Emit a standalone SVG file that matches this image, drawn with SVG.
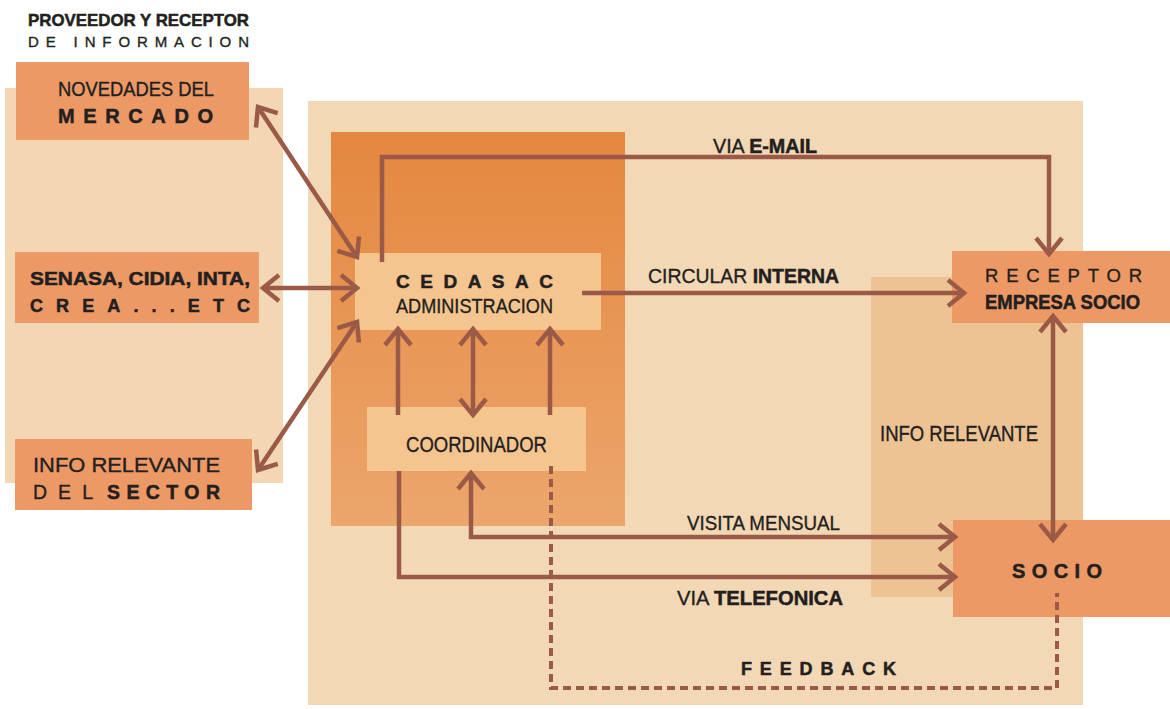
<svg xmlns="http://www.w3.org/2000/svg" width="1170" height="709" viewBox="0 0 1170 709">
<defs>
<linearGradient id="gDark" x1="0" y1="0" x2="0" y2="1">
<stop offset="0" stop-color="#e4873f"/>
<stop offset="1" stop-color="#eca66c"/>
</linearGradient>
<marker id="ah" markerUnits="userSpaceOnUse" viewBox="-20 -16 24 32" refX="0" refY="0" markerWidth="24" markerHeight="32" orient="auto-start-reverse" overflow="visible">
<path d="M-16,-13 L0,0 L-16,13" fill="none" stroke="#9b5a48" stroke-width="4.5" stroke-linejoin="miter"/>
</marker>
</defs>
<style>
text{font-family:"Liberation Sans",Arial,sans-serif;fill:#231f20;stroke:#231f20;stroke-width:0.35}
.b{font-weight:bold;stroke-width:0.5}
.orange{fill:#ec9966}
.light{fill:#f5c590}
.conn{fill:none;stroke:#9b5a48;stroke-width:4.5}
.dash{fill:none;stroke:#9b5a48;stroke-width:4;stroke-dasharray:8 5}
</style>
<rect width="1170" height="709" fill="#ffffff"/>
<g id="backgrounds">
<rect x="5" y="88" width="278" height="395" fill="#f3d6b3"/>
<rect x="308" y="101" width="775" height="604" fill="#f3d8b6"/>
<rect x="331" y="132" width="294" height="394" fill="url(#gDark)"/>
<rect x="871" y="277" width="212" height="320" fill="#edc393"/>
</g>
<g id="title">
<text x="28" y="26" class="b" font-size="17" textLength="221" lengthAdjust="spacingAndGlyphs">PROVEEDOR Y RECEPTOR</text>
<text x="28" y="47" font-size="15" textLength="221" lengthAdjust="spacing">DE INFORMACION</text>
</g>
<g id="novedades">
<rect x="16" y="62" width="233" height="78" class="orange"/>
<text x="58" y="96" font-size="19.5" textLength="156" lengthAdjust="spacingAndGlyphs">NOVEDADES DEL</text>
<text x="58" y="123" class="b" font-size="20" textLength="155" lengthAdjust="spacing">MERCADO</text>
</g>
<g id="senasa">
<rect x="15" y="252" width="244" height="71" class="orange"/>
<text x="30" y="285" class="b" font-size="18.5" textLength="220" lengthAdjust="spacingAndGlyphs">SENASA, CIDIA, INTA,</text>
<text x="30" y="312" class="b" font-size="18" textLength="220" lengthAdjust="spacing">CREA...ETC</text>
</g>
<g id="info-sector">
<rect x="15" y="439" width="237" height="71" class="orange"/>
<text x="33" y="472" font-size="21" textLength="187" lengthAdjust="spacingAndGlyphs">INFO RELEVANTE</text>
<text x="33" y="499" font-size="19.5" textLength="60" lengthAdjust="spacing">DEL</text>
<text x="107" y="499" class="b" font-size="19.5" textLength="113" lengthAdjust="spacing">SECTOR</text>
</g>
<g id="cedasac">
<rect x="355" y="253" width="246" height="77" class="light"/>
<text x="396" y="288" class="b" font-size="19" textLength="157" lengthAdjust="spacing">CEDASAC</text>
<text x="396" y="313" font-size="21" textLength="157" lengthAdjust="spacingAndGlyphs">ADMINISTRACION</text>
</g>
<g id="coordinador">
<rect x="367" y="407" width="219" height="64" class="light"/>
<text x="406" y="452" font-size="21.5" textLength="141" lengthAdjust="spacingAndGlyphs">COORDINADOR</text>
</g>
<g id="receptor">
<rect x="952" y="251" width="218" height="72" class="orange"/>
<text x="985" y="282" font-size="18.5" textLength="157" lengthAdjust="spacing">RECEPTOR</text>
<text x="985" y="309" class="b" font-size="19.5" textLength="155" lengthAdjust="spacingAndGlyphs">EMPRESA SOCIO</text>
</g>
<g id="socio">
<rect x="953" y="520" width="217" height="97" class="orange"/>
<text x="1012" y="578" class="b" font-size="20" textLength="90" lengthAdjust="spacing">SOCIO</text>
</g>
<g id="connectors">
<line x1="258" y1="107" x2="357" y2="257" class="conn" marker-start="url(#ah)" marker-end="url(#ah)"/>
<line x1="263" y1="288" x2="357" y2="288" class="conn" marker-start="url(#ah)" marker-end="url(#ah)"/>
<line x1="258" y1="470" x2="357" y2="322" class="conn" marker-start="url(#ah)" marker-end="url(#ah)"/>
<path d="M382,262 V157 H1049 V254" class="conn" marker-end="url(#ah)"/>
<path d="M582,293 H964" class="conn" marker-end="url(#ah)"/>
<path d="M398,415 V329" class="conn" marker-end="url(#ah)"/>
<path d="M473,415 V329" class="conn" marker-start="url(#ah)" marker-end="url(#ah)"/>
<path d="M550,415 V329" class="conn" marker-end="url(#ah)"/>
<path d="M399,471 V577 H955" class="conn" marker-end="url(#ah)"/>
<path d="M471,473 V537 H955" class="conn" marker-start="url(#ah)" marker-end="url(#ah)"/>
<path d="M1053,316 V540" class="conn" marker-start="url(#ah)" marker-end="url(#ah)"/>
<path d="M551,466 V688 H1057 V593" class="dash"/>
</g>
<g id="labels">
<text x="713" y="153" font-size="19.5" textLength="104" lengthAdjust="spacingAndGlyphs">VIA <tspan class="b">E-MAIL</tspan></text>
<text x="648" y="283" font-size="21" textLength="191" lengthAdjust="spacingAndGlyphs">CIRCULAR <tspan class="b">INTERNA</tspan></text>
<text x="880" y="441" font-size="21.5" textLength="158" lengthAdjust="spacingAndGlyphs">INFO RELEVANTE</text>
<text x="687" y="530" font-size="21" textLength="153" lengthAdjust="spacingAndGlyphs">VISITA MENSUAL</text>
<text x="677" y="605" font-size="21" textLength="166" lengthAdjust="spacingAndGlyphs">VIA <tspan class="b">TELEFONICA</tspan></text>
<text x="741" y="675" class="b" font-size="18" textLength="155" lengthAdjust="spacing">FEEDBACK</text>
</g>
</svg>
